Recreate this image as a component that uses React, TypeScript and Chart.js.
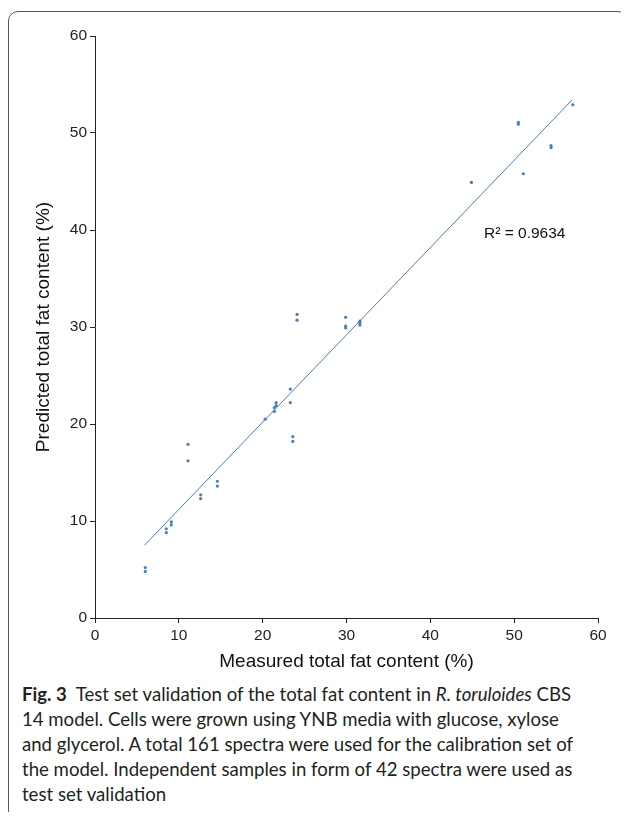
import React, { useEffect, useRef } from "react";
import { Chart, registerables } from "chart.js";

Chart.register(...registerables);

const measured = [6.0, 6.0, 8.5, 8.5, 9.1, 9.1, 11.1, 11.1, 12.6, 12.6, 14.6, 14.6, 20.3, 21.4, 21.4, 21.6, 21.6, 23.3, 23.3, 23.6, 23.6, 24.1, 24.1, 29.9, 29.9, 29.9, 31.6, 31.6, 31.6, 44.9, 50.5, 50.5, 51.1, 54.4, 54.4, 57.0];
const predicted = [5.2, 4.8, 9.2, 8.8, 9.9, 9.6, 17.9, 16.2, 12.7, 12.3, 14.1, 13.6, 20.5, 21.7, 21.3, 22.2, 21.9, 23.6, 22.2, 18.7, 18.2, 31.3, 30.7, 31.0, 30.1, 29.9, 30.6, 30.4, 30.2, 44.9, 51.1, 50.9, 45.8, 48.7, 48.5, 52.9];
const trendX = [5.9, 56.9];
const trendY = [7.5, 53.4];
const xTicks = [0, 10, 20, 30, 40, 50, 60];
const yTicks = [0, 10, 20, 30, 40, 50, 60];
const r2Label = "R² = 0.9634";
const r2Pos = [46.4, 39.6];

const BLUE = "#4a7ebb";
const AXIS = "#222222";
const FONT = "'Liberation Sans', Arial, sans-serif";

const r2Plugin = {
  id: "r2label",
  afterDatasetsDraw(chart: any) {
    const { ctx, scales } = chart;
    const x = scales.x.getPixelForValue(r2Pos[0]);
    const y = scales.y.getPixelForValue(r2Pos[1]);
    ctx.save();
    ctx.font = "15.5px " + FONT;
    ctx.fillStyle = "#111";
    ctx.textAlign = "left";
    ctx.textBaseline = "middle";
    ctx.fillText(r2Label, x, y);
    ctx.restore();
  },
};

export default function App() {
  const ref = useRef<HTMLCanvasElement>(null);
  useEffect(() => {
    if (!ref.current) return;
    const points = measured.map((m, i) => ({ x: m, y: predicted[i] }));
    const trend = trendX.map((t, i) => ({ x: t, y: trendY[i] }));
    const chart = new Chart(ref.current, {
      type: "scatter",
      data: {
        datasets: [
          {
            data: points,
            backgroundColor: BLUE,
            borderColor: BLUE,
            pointRadius: 1.6,
            pointBorderWidth: 0,
          },
          {
            type: "line",
            data: trend,
            borderColor: BLUE,
            borderWidth: 1,
            pointRadius: 0,
            fill: false,
          } as any,
        ],
      },
      options: {
        animation: false,
        responsive: false,
        events: [],
        layout: { padding: { top: 36, right: 31, left: 0, bottom: 0 } },
        plugins: { legend: { display: false }, tooltip: { enabled: false } },
        scales: {
          x: {
            type: "linear",
            min: 0,
            max: 60,
            afterFit: (s: any) => { s.height = 62; },
            afterBuildTicks: (s: any) => { s.ticks = xTicks.map((v) => ({ value: v })); },
            grid: { display: true, drawOnChartArea: false, drawTicks: true, tickLength: 5, color: AXIS, lineWidth: 1 },
            border: { display: true, color: AXIS, width: 1 },
            ticks: { color: AXIS, font: { family: FONT, size: 15.5 }, padding: 3, maxRotation: 0 },
            title: { display: true, text: "Measured total fat content (%)", color: "#111", font: { family: FONT, size: 19 }, padding: { bottom: 6.5, top: 0 } },
          },
          y: {
            type: "linear",
            min: 0,
            max: 60,
            afterFit: (s: any) => { s.width = 95; },
            afterBuildTicks: (s: any) => { s.ticks = yTicks.map((v) => ({ value: v })); },
            grid: { display: true, drawOnChartArea: false, drawTicks: true, tickLength: 5, color: AXIS, lineWidth: 1 },
            border: { display: true, color: AXIS, width: 1 },
            ticks: { color: AXIS, font: { family: FONT, size: 15.5 }, padding: 3 },
            title: { display: true, text: "Predicted total fat content (%)", color: "#111", font: { family: FONT, size: 19 }, padding: { top: 32.5, bottom: 0 } },
          },
        },
      },
      plugins: [r2Plugin],
    });
    return () => chart.destroy();
  }, []);

  const captionStyle: React.CSSProperties = {
    position: "absolute",
    left: 22,
    top: 682,
    fontFamily: "Lato, 'Noto Sans', sans-serif",
    fontSize: 18.6,
    lineHeight: "25px",
    color: "#231f20",
    whiteSpace: "nowrap",
  };

  return (
    <div style={{ position: "relative", width: 629, height: 820, margin: -8, overflow: "hidden", background: "#fff" }}>
      <div style={{ position: "absolute", left: 8, top: 11, width: 618, height: 807, border: "1px solid #555", borderRadius: 10, boxSizing: "content-box" }} />
      <canvas ref={ref} width={629} height={680} style={{ position: "absolute", left: 0, top: 0, width: 629, height: 680 }} />
      <div style={captionStyle}>
        <div><b>Fig. 3</b>&nbsp; Test set validation of the total fat content in <i>R. toruloides</i> CBS</div>
        <div>14 model. Cells were grown using YNB media with glucose, xylose</div>
        <div>and glycerol. A total 161 spectra were used for the calibration set of</div>
        <div>the model. Independent samples in form of 42 spectra were used as</div>
        <div>test set validation</div>
      </div>
    </div>
  );
}
